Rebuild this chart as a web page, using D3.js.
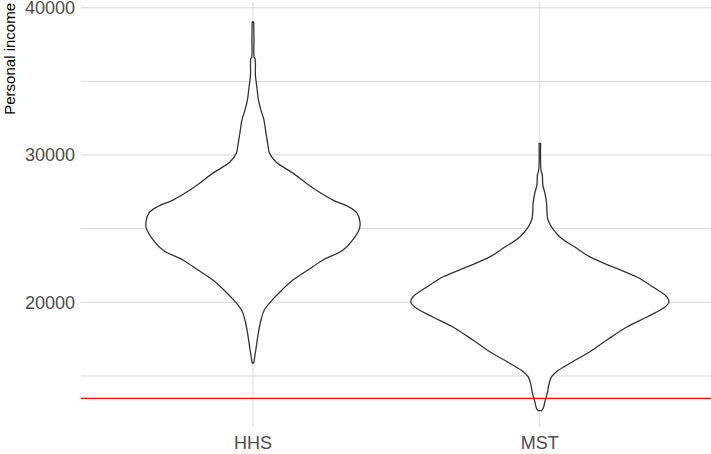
<!DOCTYPE html>
<html>
<head>
<meta charset="utf-8">
<script src="https://cdn.jsdelivr.net/npm/d3@7"></script>
<style>
  html, body { margin: 0; padding: 0; background: #fff; }
  svg { display: block; }
  text { font-family: "Liberation Sans", Arial, sans-serif; }
</style>
</head>
<body>
<svg id="chart" width="711" height="454"></svg>
<script>
// Groups on the x axis
const categories = ["HHS", "MST"];

// Y axis ticks (labelled) and minor gridlines
const yTicks = [20000, 30000, 40000];
const yMinorTicks = [15000, 25000, 35000];

// Reference income level (red line)
const referenceIncome = 13480;

// Violin outlines: income level and scaled density (1 = widest violin)
const hhsIncome = [39030, 37810, 36650, 36520, 35430, 34550, 33730, 33050, 32380, 31490, 30680, 30130,
  29520, 28770, 28100, 27620, 26940, 26470, 26060, 25450, 25040, 24360, 23550, 22870, 22190, 21510,
  20840, 20160, 19480, 18800, 17920, 16760, 15880];
const hhsDensity = [0.006, 0.008, 0.009, 0.017, 0.019, 0.031, 0.043, 0.062, 0.085, 0.101, 0.116, 0.128,
  0.178, 0.310, 0.411, 0.488, 0.620, 0.744, 0.806, 0.829, 0.826, 0.783, 0.698, 0.543, 0.426, 0.310,
  0.225, 0.150, 0.088, 0.062, 0.042, 0.022, 0.006];

const mstIncome = [30780, 28980, 28640, 27960, 27420, 26740, 25790, 25450, 25110, 24430, 23750, 23080,
  22400, 21720, 21040, 20360, 20020, 19680, 19000, 18320, 17440, 16646, 15859, 15288, 14949, 14501,
  13822, 13252, 12804, 12641];
const mstDensity = [0.006, 0.009, 0.019, 0.023, 0.039, 0.052, 0.058, 0.070, 0.091, 0.155, 0.271, 0.388,
  0.566, 0.752, 0.876, 0.984, 1.000, 0.969, 0.829, 0.674, 0.519, 0.388, 0.233, 0.129, 0.091, 0.072,
  0.057, 0.039, 0.026, 0.012];

const violins = [
  { group: categories[0], income: hhsIncome, density: hhsDensity },
  { group: categories[1], income: mstIncome, density: mstDensity }
];

const svg = d3.select("#chart");
const panel = { left: 80.8, right: 712, top: 2, bottom: 427 };

// Discrete groups sit at 1, 2 with 0.6 units of padding each side
const x = d3.scaleLinear().domain([0.4, 2.6]).range([panel.left, panel.right]);
const xPos = g => x(categories.indexOf(g) + 1);
const halfWidth = d3.scaleLinear().domain([0, 1]).range([0, x(1.45) - x(1)]);

const y = d3.scaleLinear().domain([11534, 40387]).range([panel.bottom, panel.top]);

const grid = svg.append("g").attr("class", "grid");

// Minor and major horizontal gridlines
grid.selectAll("line.minor").data(yMinorTicks).join("line")
  .attr("class", "minor")
  .attr("x1", panel.left).attr("x2", panel.right)
  .attr("y1", d => y(d)).attr("y2", d => y(d))
  .attr("stroke", "#d9d9d9").attr("stroke-width", 1);

grid.selectAll("line.major").data(yTicks).join("line")
  .attr("class", "major")
  .attr("x1", panel.left).attr("x2", panel.right)
  .attr("y1", d => y(d)).attr("y2", d => y(d))
  .attr("stroke", "#d9d9d9").attr("stroke-width", 1);

// Vertical gridlines at each group
grid.selectAll("line.vx").data(categories).join("line")
  .attr("class", "vx")
  .attr("x1", d => xPos(d)).attr("x2", d => xPos(d))
  .attr("y1", panel.top).attr("y2", panel.bottom)
  .attr("stroke", "#d9d9d9").attr("stroke-width", 1);

// Violins
const area = d3.area()
  .curve(d3.curveCatmullRom)
  .y(d => y(d.income))
  .x0(d => d.cx - halfWidth(d.density))
  .x1(d => d.cx + halfWidth(d.density));

svg.append("g").selectAll("path").data(violins).join("path")
  .attr("d", v => area(v.income.map((inc, i) => ({ income: inc, density: v.density[i], cx: xPos(v.group) }))))
  .attr("fill", "#ffffff")
  .attr("stroke", "#333333")
  .attr("stroke-width", 1.3)
  .attr("stroke-linejoin", "round");

// Reference line
svg.append("line")
  .attr("x1", panel.left).attr("x2", panel.right)
  .attr("y1", y(referenceIncome)).attr("y2", y(referenceIncome))
  .attr("stroke", "#ff0000").attr("stroke-width", 1.1);

// Y tick labels
svg.append("g").selectAll("text").data(yTicks).join("text")
  .attr("x", 75)
  .attr("y", d => y(d))
  .attr("dy", "0.36em")
  .attr("text-anchor", "end")
  .attr("font-size", 18)
  .attr("fill", "#4d4d4d")
  .text(d => d);

// X tick labels
svg.append("g").selectAll("text").data(categories).join("text")
  .attr("x", d => xPos(d))
  .attr("y", 449)
  .attr("text-anchor", "middle")
  .attr("font-size", 18)
  .attr("fill", "#4d4d4d")
  .text(d => d);

// Y axis title
svg.append("text")
  .attr("transform", "translate(15,3) rotate(-90)")
  .attr("text-anchor", "end")
  .attr("font-size", 15)
  .attr("fill", "#000")
  .text("Personal income");
</script>
</body>
</html>
